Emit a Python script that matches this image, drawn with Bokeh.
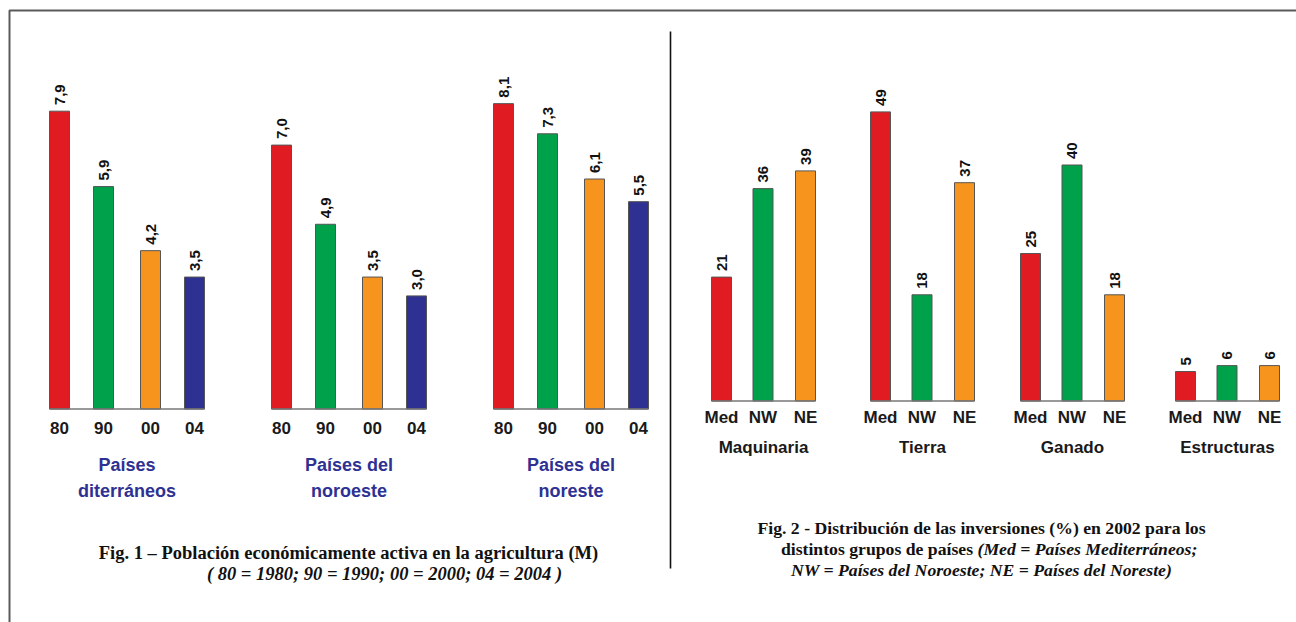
import math
from bokeh.plotting import figure
from bokeh.models import Range1d
from bokeh.embed import file_html
from bokeh.resources import INLINE
from bokeh.core.properties import value

# ---------------- data ----------------
years = ["80", "90", "00", "04"]
regions_left = ["Países\nditerráneos", "Países del\nnoroeste", "Países del\nnoreste"]
pop_med = [7.9, 5.9, 4.2, 3.5]
pop_nw = [7.0, 4.9, 3.5, 3.0]
pop_ne = [8.1, 7.3, 6.1, 5.5]

inv_categories = ["Maquinaria", "Tierra", "Ganado", "Estructuras"]
country_groups = ["Med", "NW", "NE"]
inv_med = [21, 49, 25, 5]
inv_nw = [36, 18, 40, 6]
inv_ne = [39, 37, 18, 6]

caption1 = ["Fig. 1 \u2013 Población económicamente activa en la agricultura (M)",
            "( 80 = 1980; 90 = 1990; 00 = 2000; 04 = 2004 )"]
caption2_l1 = "Fig. 2 - Distribución de las inversiones (%) en 2002 para los"
caption2_l2a = "distintos grupos de países "
caption2_l2b = "(Med = Países Mediterráneos;"
caption2_l3 = "NW = Países del Noroeste; NE = Países del Noreste)"

# ---------------- styles / layout ----------------
YEAR_COLORS = ["#e11b22", "#00a14b", "#f7941d", "#2e3192"]
GROUP_COLORS = ["#e11b22", "#00a14b", "#f7941d"]
SANS = value("Liberation Sans")
SERIF = value("Liberation Serif")
W, H = 1296, 622
PAGE_X0, PAGE_Y0 = 0, 0

L_BASE, L_PX = 408.5, 37.7          # baseline (page y) and px per unit
R_BASE, R_PX = 400.5, 5.9
L_X0, L_STEP, L_OFF = 59, 222, [0, 44, 91, 135]
R_GX, R_OFF = [721, 880, 1030, 1185], [0, 41.5, 84]
BAR_W = 20

p = figure(width=W, height=H, output_backend="svg", toolbar_location=None,
           x_range=Range1d(PAGE_X0, PAGE_X0 + W),
           y_range=Range1d(PAGE_Y0 + H, PAGE_Y0),
           x_axis_location=None, y_axis_location=None,
           min_border=0, outline_line_color=None,
           background_fill_color="white", border_fill_color="white")
p.xgrid.visible = False
p.ygrid.visible = False
p.extra_y_ranges = {
    "left": Range1d((L_BASE - (PAGE_Y0 + H)) / L_PX, (L_BASE - PAGE_Y0) / L_PX),
    "right": Range1d((R_BASE - (PAGE_Y0 + H)) / R_PX, (R_BASE - PAGE_Y0) / R_PX),
}

# ---------------- frame and divider ----------------
p.line(x=[9, 9, PAGE_X0 + W], y=[PAGE_Y0 + H, 10, 10], line_color="#5a5a5a", line_width=2)
p.line(x=[670, 670], y=[31, 568], line_color="#111111", line_width=1.6)

# ---------------- left chart ----------------
left_series = [pop_med, pop_nw, pop_ne]
for g, (vals, region) in enumerate(zip(left_series, regions_left)):
    xs = [L_X0 + g * L_STEP + o for o in L_OFF]
    p.vbar(x=xs, top=vals, bottom=0, width=BAR_W, fill_color=YEAR_COLORS,
           line_color="#555555", line_width=1, y_range_name="left")
    p.segment(x0=[xs[0] - BAR_W / 2], x1=[xs[-1] + BAR_W / 2], y0=[0], y1=[0],
              line_color="#777777", line_width=1.5, y_range_name="left")
    p.text(x=xs, y=vals, text=[f"{v:.1f}".replace(".", ",") for v in vals],
           angle=math.pi / 2, text_align="left", text_baseline="middle",
           y_offset=-6, text_font=SANS, text_font_style="bold",
           text_font_size="15px", text_color="#111111", y_range_name="left")
    p.text(x=xs, y=[0] * len(xs), text=years, text_align="center",
           text_baseline="middle", y_offset=19, text_font=SANS,
           text_font_style="bold", text_font_size="17px", text_color="#1a1a1a",
           y_range_name="left")
    p.text(x=[(xs[0] + xs[-1]) / 2], y=[0], text=[region], text_align="center",
           text_baseline="top", y_offset=46, text_font=SANS, text_font_style="bold",
           text_font_size="18px", text_color="#2e3192", text_line_height=1.3,
           y_range_name="left")

# ---------------- right chart ----------------
for g, cat in enumerate(inv_categories):
    vals = [inv_med[g], inv_nw[g], inv_ne[g]]
    xs = [R_GX[g] + o for o in R_OFF]
    p.vbar(x=xs, top=vals, bottom=0, width=BAR_W, fill_color=GROUP_COLORS,
           line_color="#555555", line_width=1, y_range_name="right")
    p.segment(x0=[xs[0] - BAR_W / 2], x1=[xs[-1] + BAR_W / 2], y0=[0], y1=[0],
              line_color="#777777", line_width=1.5, y_range_name="right")
    p.text(x=xs, y=vals, text=[str(v) for v in vals],
           angle=math.pi / 2, text_align="left", text_baseline="middle",
           y_offset=-6, text_font=SANS, text_font_style="bold",
           text_font_size="15px", text_color="#111111", y_range_name="right")
    p.text(x=xs, y=[0] * len(xs), text=country_groups, text_align="center",
           text_baseline="middle", y_offset=16, text_font=SANS,
           text_font_style="bold", text_font_size="17px", text_color="#1a1a1a",
           y_range_name="right")
    p.text(x=[(xs[0] + xs[-1]) / 2], y=[0], text=[cat], text_align="center",
           text_baseline="middle", y_offset=46, text_font=SANS,
           text_font_style="bold", text_font_size="17px", text_color="#1a1a1a",
           y_range_name="right")

# ---------------- captions ----------------
CAP1 = dict(text_font=SERIF, text_font_size="18.5px", text_color="#111111",
            text_baseline="middle")
CAP2 = dict(text_font=SERIF, text_font_size="17.7px", text_color="#111111",
            text_baseline="middle")
p.text(x=[348], y=[552], text=[caption1[0]], text_align="center",
       text_font_style="bold", **CAP1)
p.text(x=[384], y=[573], text=[caption1[1]], text_align="center",
       text_font_style="bold italic", **CAP1)
p.text(x=[981], y=[527], text=[caption2_l1], text_align="center",
       text_font_style="bold", **CAP2)
p.text(x=[977], y=[548], text=[caption2_l2a], text_align="right",
       text_font_style="bold", **CAP2)
p.text(x=[977], y=[548], text=[caption2_l2b], text_align="left",
       text_font_style="bold italic", **CAP2)
p.text(x=[981], y=[569], text=[caption2_l3], text_align="center",
       text_font_style="bold italic", **CAP2)

open("out.html", "w").write(file_html(p, INLINE))
